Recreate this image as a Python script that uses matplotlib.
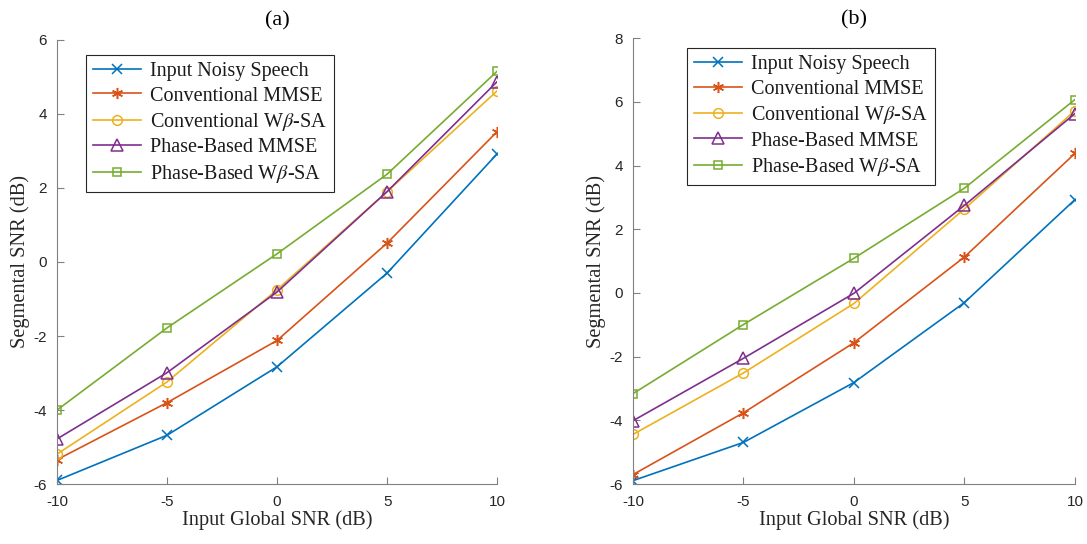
import numpy as np
import matplotlib
matplotlib.use('Agg')
import matplotlib.pyplot as plt

snr_entrada = [-10, -5, 0, 5, 10]

rotulos = [
    'Input Noisy Speech',
    'Conventional MMSE',
    r'Conventional W$\beta$-SA',
    'Phase-Based MMSE',
    r'Phase-Based W$\beta$-SA',
]

# painel (a)
a_ruidoso = [-5.90, -4.68, -2.83, -0.30, 2.92]
a_mmse_conv = [-5.34, -3.80, -2.12, 0.51, 3.52]
a_wbsa_conv = [-5.19, -3.24, -0.75, 1.90, 4.62]
a_mmse_fase = [-4.78, -2.99, -0.81, 1.90, 4.87]
a_wbsa_fase = [-4.00, -1.78, 0.22, 2.37, 5.15]

# painel (b)
b_ruidoso = [-5.89, -4.69, -2.81, -0.30, 2.93]
b_mmse_conv = [-5.70, -3.76, -1.56, 1.13, 4.38]
b_wbsa_conv = [-4.44, -2.51, -0.33, 2.64, 5.72]
b_mmse_fase = [-4.01, -2.05, -0.01, 2.75, 5.63]
b_wbsa_fase = [-3.16, -0.99, 1.09, 3.29, 6.07]

cores = ['#0072BD', '#D95319', '#EDB120', '#7E2F8E', '#77AC30']
asterisco = (6, 2, 0)
marcadores = ['x', asterisco, 'o', '^', 's']
tamanhos = [7, 8, 7, 8, 6]

plt.rcParams['mathtext.fontset'] = 'stix'
plt.rcParams['axes.unicode_minus'] = False
serifa = 'Liberation Serif'
sans = 'Liberation Sans'
cinza = '#262626'


def desenhar_painel(ax, series, titulo, ylim, yticks, pos_legenda):
    for valores, cor, marc, tam, rot in zip(series, cores, marcadores, tamanhos, rotulos):
        ax.plot(snr_entrada, valores, color=cor, marker=marc, markersize=tam,
                markerfacecolor='none', markeredgecolor=cor, markeredgewidth=1.1,
                linewidth=1.2, label=rot)

    ax.set_xlim(-10, 10)
    ax.set_ylim(*ylim)
    ax.set_xticks(snr_entrada)
    ax.set_yticks(yticks)
    ax.spines['top'].set_visible(False)
    ax.spines['right'].set_visible(False)
    for lado in ['left', 'bottom']:
        ax.spines[lado].set_color('#808080')
        ax.spines[lado].set_linewidth(0.8)
    ax.tick_params(direction='in', length=5, colors='#808080', labelcolor=cinza,
                   labelsize=11)
    ax.tick_params(axis='x', pad=8)
    ax.tick_params(axis='y', pad=7)
    for rotulo in ax.get_xticklabels() + ax.get_yticklabels():
        rotulo.set_fontfamily(sans)

    ax.set_title(titulo, fontfamily=serifa, fontsize=16, color='black', pad=10)
    ax.set_xlabel('Input Global SNR (dB)', fontfamily=serifa, fontsize=14.7, color=cinza,
                  labelpad=1)
    ax.set_ylabel('Segmental SNR (dB)', fontfamily=serifa, fontsize=14.7, color=cinza,
                  labelpad=3)

    leg = ax.legend(loc='upper left', bbox_to_anchor=pos_legenda,
                    prop={'family': serifa, 'size': 14.5}, fancybox=False,
                    edgecolor=cinza, framealpha=1, handlelength=2.4,
                    borderpad=0.35, labelspacing=0.27, handletextpad=0.45,
                    borderaxespad=0)
    leg.get_frame().set_linewidth(0.8)
    for txt in leg.get_texts():
        txt.set_color('#1a1a1a')


fig = plt.figure(figsize=(10.87, 5.44), dpi=100)
ax_a = fig.add_axes([0.0524, 0.110, 0.405, 0.817])
ax_b = fig.add_axes([0.5823, 0.110, 0.4066, 0.820])

desenhar_painel(ax_a, [a_ruidoso, a_mmse_conv, a_wbsa_conv, a_mmse_fase, a_wbsa_fase],
                '(a)', (-6, 6), [-6, -4, -2, 0, 2, 4, 6], (0.066, 0.966))
desenhar_painel(ax_b, [b_ruidoso, b_mmse_conv, b_wbsa_conv, b_mmse_fase, b_wbsa_fase],
                '(b)', (-6, 8), [-6, -4, -2, 0, 2, 4, 6, 8], (0.122, 0.978))

fig.savefig('out.png', dpi=100)
plt.close(fig)
